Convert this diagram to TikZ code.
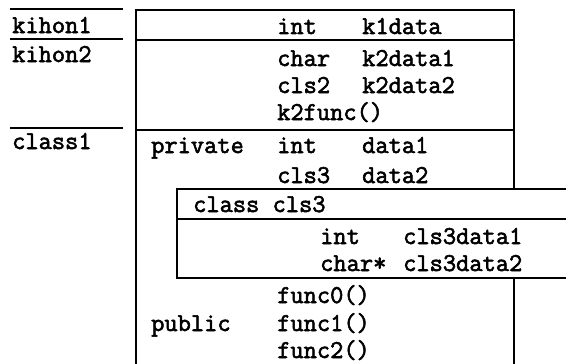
\documentclass[tikz,border=0pt]{standalone}
\usepackage{fontspec}
\setmonofont[FakeBold=2.2]{Latin Modern Mono}
\begin{document}
\begin{tikzpicture}[x=1pt,y=-1pt,
  txt/.style={anchor=base west,inner sep=0pt,font=\ttfamily\fontsize{25.7}{30}\selectfont},
  rule/.style={line width=1.6pt}]
\useasboundingbox (0,0) rectangle (566,364);
\clip (0,0) rectangle (566,364);
% left column rules
\draw[rule] (10,9) -- (123,9);
\draw[rule] (10,39) -- (123,39);
\draw[rule] (10,128) -- (123,128);
% main box
\draw[rule] (136,372) -- (136,10) -- (514,10) -- (514,372);
\draw[rule] (136,40) -- (514,40);
\draw[rule] (136,130) -- (514,130);
% inner box cls3
\draw[rule,fill=white] (177,189) rectangle (580,278);
\draw[rule] (177,219) -- (580,219);
% left labels
\node[txt] (kihon1) at (12,33) {kihon1};
\node[txt] (kihon2) at (12,62) {kihon2};
\node[txt] (class1) at (12,149) {class1};
% kihon1
\node[txt] (t1) at (277,34) {int};
\node[txt] (n1) at (362,34) {k1data};
% kihon2
\node[txt] (t2) at (277,66) {char};
\node[txt] (n2) at (362,66) {k2data1};
\node[txt] (t3) at (277,93) {cls2};
\node[txt] (n3) at (362,93) {k2data2};
\node[txt] (f2) at (277,120) {k2func()};
% class1
\node[txt] (priv) at (151,153) {private};
\node[txt] (t4) at (277,153) {int};
\node[txt] (n4) at (362,153) {data1};
\node[txt] (t5) at (277,183) {cls3};
\node[txt] (n5) at (362,183) {data2};
\node[txt] (c3) at (193,212) {class cls3};
\node[txt] (t6) at (320,244) {int};
\node[txt] (n6) at (403,244) {cls3data1};
\node[txt] (t7) at (320,271) {char*};
\node[txt] (n7) at (403,271) {cls3data2};
\node[txt] (fa) at (277,303) {func0()};
\node[txt] (pub) at (151,331) {public};
\node[txt] (fb) at (277,331) {func1()};
\node[txt] (fc) at (277,358) {func2()};
\end{tikzpicture}
\end{document}
